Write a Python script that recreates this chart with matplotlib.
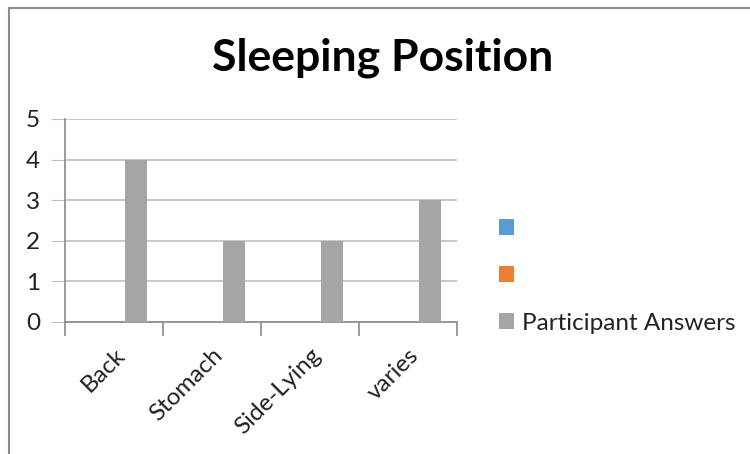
import numpy as np
import matplotlib
matplotlib.use("Agg")
import matplotlib.pyplot as plt
from matplotlib.patches import Patch
from matplotlib.lines import Line2D

categories = ["Back", "Stomach", "Side-Lying", "varies"]
series_names = ["", "", "Participant Answers"]
series_1 = [np.nan, np.nan, np.nan, np.nan]
series_2 = [np.nan, np.nan, np.nan, np.nan]
answers = [4, 2, 2, 3]
colors = ["#5b9bd5", "#ed7d31", "#a5a5a5"]
y_ticks = [0, 1, 2, 3, 4, 5]

plt.rcParams["font.family"] = ["Lato", "DejaVu Sans"]

fig = plt.figure(figsize=(7.5, 4.54), dpi=100)
ax = fig.add_axes([65 / 750, 1 - 322 / 454, (457 - 65) / 750, (322 - 119) / 454])

x = np.arange(len(categories))
width = 1 / 4.5  # three bars, 150% gap
handles = []
for i, (vals, name, c) in enumerate(zip([series_1, series_2, answers], series_names, colors)):
    ax.bar(x + (i - 1) * width, vals, width, color=c, zorder=3)
    handles.append(Patch(facecolor=c, label=name))

ax.set_xlim(-0.5, len(categories) - 0.5)
ax.set_ylim(0, 5)
ax.set_yticks(y_ticks)
ax.yaxis.grid(True, color="#c0c0c0", lw=1.2, zorder=0)
ax.tick_params(axis="y", length=10, color="#c0c0c0", labelsize=17.5, pad=8, labelcolor="#222222")

ax.set_xticks(x)
ax.set_xticklabels(categories, rotation=45, ha="right", rotation_mode="anchor",
                   fontsize=17.5, color="#222222")
ax.set_xticks(np.arange(len(categories) + 1) - 0.5, minor=True)
ax.tick_params(axis="x", which="major", length=0, pad=16)
ax.tick_params(axis="x", which="minor", length=10, color="#8a8a8a", width=1.2)

for s in ["top", "right"]:
    ax.spines[s].set_visible(False)
for s in ["left", "bottom"]:
    ax.spines[s].set_color("#8a8a8a")
    ax.spines[s].set_linewidth(1.2)

fig.text(383 / 750, 1 - 58 / 454, "Sleeping Position", ha="center", va="center",
         fontsize=32, fontweight="bold", color="black")

fig.legend(handles=handles, labels=series_names, loc="center left",
           bbox_to_anchor=(477 / 750, 1 - 276 / 454), frameon=False,
           fontsize=17.5, handlelength=0.62, handleheight=0.62, handletextpad=0.35,
           labelspacing=1.08, labelcolor="#222222")

# chart frame
fig.add_artist(Line2D([9 / 750, 9 / 750], [0, 1 - 8 / 454], color="#8c8c8c", lw=1.5))
fig.add_artist(Line2D([9 / 750, 1], [1 - 8 / 454, 1 - 8 / 454], color="#8c8c8c", lw=1.5))

fig.savefig("out.png", dpi=100)
